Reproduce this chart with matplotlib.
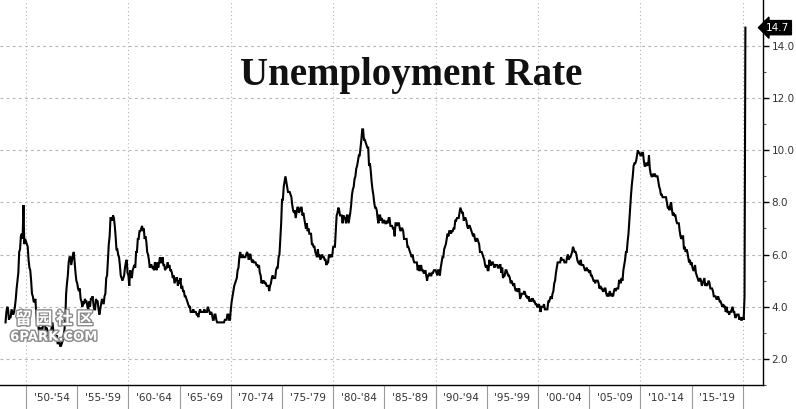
import numpy as np
import matplotlib
matplotlib.use("Agg")
import matplotlib.pyplot as plt
import matplotlib.patheffects as pe

# Monthly US unemployment rate (%), Jan 1948 - Apr 2020
rate_1948_1949 = [3.4, 3.8, 4.0, 3.9, 3.5, 3.6, 3.6, 3.9, 3.8, 3.7, 3.8, 4.0,
                  4.3, 4.7, 5.0, 5.3, 6.1, 6.2, 6.7, 6.8, 6.6, 7.9, 6.4, 6.6]
rate_1950s = [6.5, 6.4, 6.3, 5.8, 5.5, 5.4, 5.0, 4.5, 4.4, 4.2, 4.2, 4.3,
              3.7, 3.4, 3.4, 3.1, 3.0, 3.2, 3.1, 3.1, 3.3, 3.5, 3.5, 3.1,
              3.2, 3.1, 2.9, 2.9, 3.0, 3.0, 3.2, 3.4, 3.1, 3.0, 2.8, 2.7,
              2.9, 2.6, 2.6, 2.7, 2.5, 2.5, 2.6, 2.7, 2.9, 3.1, 3.5, 4.5,
              4.9, 5.2, 5.7, 5.9, 5.9, 5.6, 5.8, 6.0, 6.1, 5.7, 5.3, 5.0,
              4.9, 4.7, 4.6, 4.7, 4.3, 4.2, 4.0, 4.2, 4.1, 4.3, 4.2, 4.2,
              4.0, 3.9, 4.2, 4.0, 4.3, 4.3, 4.4, 4.1, 3.9, 3.9, 4.3, 4.2,
              4.2, 3.9, 3.7, 3.9, 4.1, 4.3, 4.2, 4.1, 4.4, 4.5, 5.1, 5.2,
              5.8, 6.4, 6.7, 7.4, 7.4, 7.3, 7.5, 7.4, 7.1, 6.7, 6.2, 6.2,
              6.0, 5.9, 5.6, 5.2, 5.1, 5.0, 5.1, 5.2, 5.5, 5.7, 5.8, 5.3]
rate_1960s = [5.2, 4.8, 5.4, 5.2, 5.1, 5.4, 5.5, 5.6, 5.5, 6.1, 6.1, 6.6,
              6.6, 6.9, 6.9, 7.0, 7.1, 6.9, 7.0, 6.6, 6.7, 6.5, 6.1, 6.0,
              5.8, 5.5, 5.6, 5.6, 5.5, 5.5, 5.4, 5.7, 5.6, 5.4, 5.7, 5.5,
              5.7, 5.9, 5.7, 5.7, 5.9, 5.6, 5.6, 5.4, 5.5, 5.5, 5.7, 5.5,
              5.6, 5.4, 5.4, 5.3, 5.1, 5.2, 4.9, 5.0, 5.1, 5.1, 4.8, 5.0,
              4.9, 5.1, 4.7, 4.8, 4.6, 4.6, 4.4, 4.4, 4.3, 4.2, 4.1, 4.0,
              4.0, 3.8, 3.8, 3.8, 3.9, 3.8, 3.8, 3.8, 3.7, 3.7, 3.6, 3.8,
              3.9, 3.8, 3.8, 3.8, 3.8, 3.9, 3.8, 3.8, 3.8, 4.0, 3.9, 3.8,
              3.7, 3.8, 3.7, 3.5, 3.5, 3.7, 3.7, 3.5, 3.4, 3.4, 3.4, 3.4,
              3.4, 3.4, 3.4, 3.4, 3.4, 3.5, 3.5, 3.5, 3.7, 3.7, 3.5, 3.5]
rate_1970s = [3.9, 4.2, 4.4, 4.6, 4.8, 4.9, 5.0, 5.1, 5.4, 5.5, 5.9, 6.1,
              5.9, 5.9, 6.0, 5.9, 5.9, 5.9, 6.0, 6.1, 6.0, 5.8, 6.0, 6.0,
              5.8, 5.7, 5.8, 5.7, 5.7, 5.7, 5.6, 5.6, 5.5, 5.6, 5.3, 5.2,
              4.9, 5.0, 4.9, 5.0, 4.9, 4.9, 4.8, 4.8, 4.8, 4.6, 4.8, 4.9,
              5.1, 5.2, 5.1, 5.1, 5.1, 5.4, 5.5, 5.5, 5.9, 6.0, 6.6, 7.2,
              8.1, 8.1, 8.6, 8.8, 9.0, 8.8, 8.6, 8.4, 8.4, 8.4, 8.3, 8.2,
              7.9, 7.7, 7.6, 7.7, 7.4, 7.6, 7.8, 7.8, 7.6, 7.7, 7.8, 7.8,
              7.5, 7.6, 7.4, 7.2, 7.0, 7.2, 6.9, 7.0, 6.8, 6.8, 6.8, 6.4,
              6.4, 6.3, 6.3, 6.1, 6.0, 5.9, 6.2, 5.9, 6.0, 5.8, 5.9, 6.0,
              5.9, 5.9, 5.8, 5.8, 5.6, 5.7, 5.7, 6.0, 5.9, 6.0, 5.9, 6.0]
rate_1980s = [6.3, 6.3, 6.3, 6.9, 7.5, 7.6, 7.8, 7.7, 7.5, 7.5, 7.5, 7.2,
              7.5, 7.4, 7.4, 7.2, 7.5, 7.5, 7.2, 7.4, 7.6, 7.9, 8.3, 8.5,
              8.6, 8.9, 9.0, 9.3, 9.4, 9.6, 9.8, 9.8, 10.1, 10.4, 10.8, 10.8,
              10.4, 10.4, 10.3, 10.2, 10.1, 10.1, 9.4, 9.5, 9.2, 8.8, 8.5, 8.3,
              8.0, 7.8, 7.8, 7.7, 7.4, 7.2, 7.5, 7.5, 7.3, 7.4, 7.2, 7.3,
              7.3, 7.2, 7.2, 7.3, 7.2, 7.4, 7.4, 7.1, 7.1, 7.1, 7.0, 7.0,
              6.7, 7.2, 7.2, 7.1, 7.2, 7.2, 7.0, 6.9, 7.0, 7.0, 6.9, 6.6,
              6.6, 6.6, 6.6, 6.3, 6.3, 6.2, 6.1, 6.0, 5.9, 6.0, 5.8, 5.7,
              5.7, 5.7, 5.7, 5.4, 5.6, 5.4, 5.4, 5.6, 5.4, 5.4, 5.3, 5.3,
              5.4, 5.2, 5.0, 5.2, 5.2, 5.3, 5.2, 5.2, 5.3, 5.3, 5.4, 5.4]
rate_1990s = [5.4, 5.3, 5.2, 5.4, 5.4, 5.2, 5.5, 5.7, 5.9, 5.9, 6.2, 6.3,
              6.4, 6.6, 6.8, 6.7, 6.9, 6.9, 6.8, 6.9, 6.9, 7.0, 7.0, 7.3,
              7.3, 7.4, 7.4, 7.4, 7.6, 7.8, 7.7, 7.6, 7.6, 7.3, 7.4, 7.4,
              7.3, 7.1, 7.0, 7.1, 7.1, 7.0, 6.9, 6.8, 6.7, 6.8, 6.6, 6.5,
              6.6, 6.6, 6.5, 6.4, 6.1, 6.1, 6.1, 6.0, 5.9, 5.8, 5.6, 5.5,
              5.6, 5.4, 5.4, 5.8, 5.6, 5.6, 5.7, 5.7, 5.6, 5.5, 5.6, 5.6,
              5.6, 5.5, 5.5, 5.6, 5.6, 5.3, 5.5, 5.1, 5.2, 5.2, 5.4, 5.4,
              5.3, 5.2, 5.2, 5.1, 4.9, 5.0, 4.9, 4.8, 4.9, 4.7, 4.6, 4.7,
              4.6, 4.6, 4.7, 4.3, 4.4, 4.5, 4.5, 4.5, 4.6, 4.5, 4.4, 4.4,
              4.3, 4.4, 4.2, 4.3, 4.2, 4.3, 4.3, 4.2, 4.2, 4.1, 4.1, 4.0]
rate_2000s = [4.0, 4.1, 4.0, 3.8, 4.0, 4.0, 4.0, 4.1, 3.9, 3.9, 3.9, 3.9,
              4.2, 4.2, 4.3, 4.4, 4.3, 4.5, 4.6, 4.9, 5.0, 5.3, 5.5, 5.7,
              5.7, 5.7, 5.7, 5.9, 5.8, 5.8, 5.8, 5.7, 5.7, 5.7, 5.9, 6.0,
              5.8, 5.9, 5.9, 6.0, 6.1, 6.3, 6.2, 6.1, 6.1, 6.0, 5.8, 5.7,
              5.7, 5.6, 5.8, 5.6, 5.6, 5.6, 5.5, 5.4, 5.4, 5.5, 5.4, 5.4,
              5.3, 5.4, 5.2, 5.2, 5.1, 5.0, 5.0, 4.9, 5.0, 5.0, 5.0, 4.9,
              4.7, 4.8, 4.7, 4.7, 4.6, 4.6, 4.7, 4.7, 4.5, 4.4, 4.5, 4.4,
              4.6, 4.5, 4.4, 4.5, 4.4, 4.6, 4.7, 4.6, 4.7, 4.7, 4.7, 5.0,
              5.0, 4.9, 5.1, 5.0, 5.4, 5.6, 5.8, 6.1, 6.1, 6.5, 6.8, 7.3,
              7.8, 8.3, 8.7, 9.0, 9.4, 9.5, 9.5, 9.6, 9.8, 10.0, 9.9, 9.9]
rate_2010s = [9.8, 9.8, 9.9, 9.9, 9.6, 9.4, 9.4, 9.5, 9.5, 9.4, 9.8, 9.3,
              9.1, 9.0, 9.0, 9.1, 9.0, 9.1, 9.0, 9.0, 9.0, 8.8, 8.6, 8.5,
              8.3, 8.3, 8.2, 8.2, 8.2, 8.2, 8.2, 8.0, 7.8, 7.8, 7.7, 7.9,
              8.0, 7.7, 7.5, 7.6, 7.5, 7.5, 7.3, 7.2, 7.2, 7.2, 6.9, 6.7,
              6.6, 6.7, 6.7, 6.2, 6.3, 6.1, 6.2, 6.1, 5.9, 5.7, 5.8, 5.6,
              5.7, 5.5, 5.4, 5.4, 5.6, 5.3, 5.2, 5.1, 5.0, 5.0, 5.1, 5.0,
              4.8, 4.9, 5.0, 5.1, 4.8, 4.9, 4.8, 4.9, 5.0, 4.9, 4.7, 4.7,
              4.7, 4.6, 4.4, 4.4, 4.4, 4.3, 4.3, 4.4, 4.3, 4.2, 4.2, 4.1,
              4.0, 4.1, 4.0, 4.0, 3.8, 4.0, 3.8, 3.8, 3.7, 3.8, 3.8, 3.9,
              4.0, 3.8, 3.8, 3.6, 3.6, 3.7, 3.7, 3.7, 3.5, 3.6, 3.5, 3.5]
rate_2020 = [3.6, 3.5, 4.4, 14.7]

start_year = 1948
period_labels = ["'50-'54", "'55-'59", "'60-'64", "'65-'69", "'70-'74", "'75-'79",
                 "'80-'84", "'85-'89", "'90-'94", "'95-'99", "'00-'04", "'05-'09",
                 "'10-'14", "'15-'19"]
y_ticks = [2.0, 4.0, 6.0, 8.0, 10.0, 12.0, 14.0]
title = "Unemployment Rate"

values = np.array(rate_1948_1949 + rate_1950s + rate_1960s + rate_1970s +
                  rate_1980s + rate_1990s + rate_2000s + rate_2010s + rate_2020)
dates = start_year + np.arange(len(values)) / 12.0

W, H = 796, 409
fig = plt.figure(figsize=(W / 100, H / 100), dpi=100)
ax = fig.add_axes([0, 24 / H, 763 / W, 1 - 24 / H])

ax.plot(dates, values, color="black", lw=1.5, solid_joinstyle="miter", zorder=3)

ax.set_xlim(1947.46, 2021.97)
ax.set_ylim(1.36, 15.76)

for s in ["left", "top"]:
    ax.spines[s].set_visible(False)
ax.spines["right"].set_linewidth(1.0)
ax.spines["bottom"].set_linewidth(1.0)

# y axis on right
ax.yaxis.tick_right()
ax.set_yticks(y_ticks)
ax.set_yticklabels([f"{v:.1f}" for v in y_ticks])
ax.set_yticks(np.arange(1.0, 16.0, 2.0), minor=True)
ax.tick_params(axis="y", which="major", direction="out", length=4, width=1.0,
               color="black", labelsize=7.5, labelcolor="#333333", pad=2)
ax.tick_params(axis="y", which="minor", direction="out", length=2, width=0.8,
               color="#555555")
ax.grid(axis="y", which="major", color="#b5b5b5", lw=0.8, linestyle=(0, (2.5, 3)))

# x axis: separators every 5 years, labels centered in each bin
n = len(period_labels)
sep_years = [1950 + 5 * i for i in range(n + 1)]
mid_years = [1952.5 + 5 * i for i in range(n)]
ax.set_xticks(sep_years)
ax.set_xticklabels([""] * len(sep_years))
ax.set_xticks(mid_years, minor=True)
ax.set_xticklabels(period_labels, minor=True)
ax.tick_params(axis="x", which="major", direction="out", length=18, width=0.8,
               color="#9a9a9a")
ax.tick_params(axis="x", which="minor", length=0, labelsize=7.5,
               labelcolor="#333333", pad=6)

for yr in range(1950, 2021, 10):
    ax.axvline(yr, color="#b5b5b5", lw=0.8, linestyle=(0, (1, 2.5)), zorder=1)

# last value label
ax.annotate(f"{values[-1]:.1f}", xy=(1.004, values[-1]),
            xycoords=("axes fraction", "data"), ha="left", va="center",
            fontsize=7.5, color="white",
            bbox=dict(boxstyle="larrow,pad=0.2", fc="black", ec="black"),
            annotation_clip=False)

fig.text(411 / W, 1 - 76 / H, title, ha="center", va="center",
         fontsize=28, fontweight="bold", family="Liberation Serif", color="#111111")

# watermark
wm = [pe.withStroke(linewidth=2.0, foreground="#8a8a8a")]
fig.text(54 / W, 1 - 319 / H, "留 园 社 区", ha="center", va="center",
         fontsize=12, fontweight="bold", color="white",
         family=["Noto Sans CJK SC", "DejaVu Sans"], path_effects=wm, zorder=10)
fig.text(54 / W, 1 - 337 / H, "6PARK.COM", ha="center", va="center",
         fontsize=9.5, fontweight="bold", color="white",
         family="DejaVu Sans", path_effects=wm, zorder=10)

fig.savefig("out.png", dpi=100)
